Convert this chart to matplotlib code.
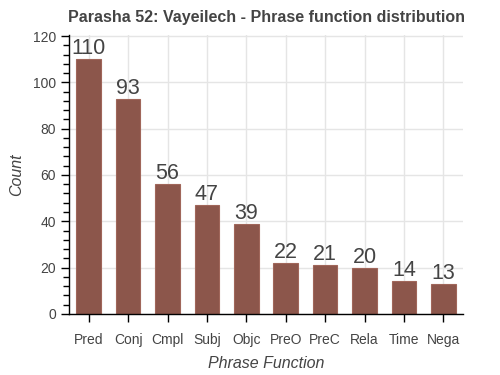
import matplotlib
matplotlib.use("Agg")
import matplotlib.pyplot as plt
from matplotlib.ticker import MultipleLocator

plt.rcParams["font.family"] = ["Liberation Sans", "DejaVu Sans"]

functions = ["Pred", "Conj", "Cmpl", "Subj", "Objc", "PreO", "PreC", "Rela", "Time", "Nega"]
counts = [110, 93, 56, 47, 39, 22, 21, 20, 14, 13]

fig = plt.figure(figsize=(5, 3.75), dpi=100)
ax = fig.add_axes([0.138, 0.163, 0.788, 0.744])

x = range(len(functions))
bars = ax.bar(x, counts, width=0.62, color="#8c564b", edgecolor="#a0665a", linewidth=0.8, zorder=2)
for xi, c in zip(x, counts):
    ax.text(xi, c, str(c), ha="center", va="bottom", fontsize=15.5, color="#444444", zorder=3)

ax.set_xlim(-0.5, len(functions) - 0.5)
ax.set_ylim(0, 120.5)
ax.set_xticks(list(x))
ax.set_xticklabels(functions)
ax.yaxis.set_major_locator(MultipleLocator(20))
ax.yaxis.set_minor_locator(MultipleLocator(4))

ax.grid(True, color="#e5e5e5", linewidth=1, zorder=0)
ax.set_axisbelow(True)
for s in ["top", "right"]:
    ax.spines[s].set_visible(False)
for s in ["left", "bottom"]:
    ax.spines[s].set_color("black")
    ax.spines[s].set_linewidth(1)

ax.tick_params(axis="both", which="major", length=6, width=1, color="black",
               labelsize=10, labelcolor="#444444")
ax.tick_params(axis="y", which="minor", length=4, width=1, color="black")
ax.tick_params(axis="x", which="major", pad=8)

ax.set_xlabel("Phrase Function", fontsize=11.5, style="italic", color="#444444", labelpad=6)
ax.set_ylabel("Count", fontsize=11.5, style="italic", color="#444444", labelpad=6)
ax.set_title("Parasha 52: Vayeilech - Phrase function distribution", fontsize=11.5,
             fontweight="bold", color="#444444", pad=9)

fig.savefig("out.png", dpi=100)
